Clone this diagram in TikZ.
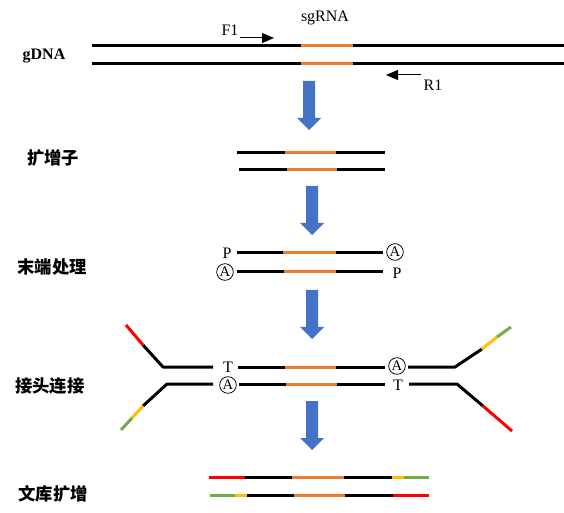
\documentclass[tikz,border=0pt]{standalone}
\usepackage{fontspec}
\setmainfont{Liberation Serif}
\newfontfamily\cjk{Noto Sans CJK SC}
\usepackage{xcolor}
\definecolor{sgOrange}{HTML}{ED7D31}
\definecolor{flowBlue}{HTML}{4472C4}
\definecolor{adRed}{HTML}{FF0000}
\definecolor{adYellow}{HTML}{FFC000}
\definecolor{adGreen}{HTML}{70AD47}
\usepackage{tikz}
\usetikzlibrary{arrows.meta}

\begin{document}
\begin{tikzpicture}[x=0.75pt, y=-0.75pt,
  strand/.style={line width=2.25pt},
  primer/.style={line width=0.75pt, -{Triangle[length=9pt, width=7.5pt]}},
  steplabel/.style={font=\cjk\bfseries\fontsize{13}{15}\selectfont},
  endmark/.style={font=\fontsize{12}{12}\selectfont, inner sep=0pt},
  adenyl/.style={circle, draw, line width=0.6pt, inner sep=0pt, minimum size=12.5pt,
    font=\fontsize{11}{11}\selectfont}]
  \useasboundingbox (0,0) rectangle (564,513);
  % ---------- step labels ----------
  \node[font=\bfseries\fontsize{12}{14}\selectfont] (gdna) at (44,56) {gDNA};
  \node[steplabel] (amplicon) at (53,158) {扩增子};
  \node[steplabel] (endrep) at (52,267) {末端处理};
  \node[steplabel] (ligation) at (50,386) {接头连接};
  \node[steplabel] (library) at (53,494) {文库扩增};
  % ---------- flow arrows ----------
  \foreach \ax/\ay in {309/81, 312/186, 312/290, 312/401}
    \fill[flowBlue] (\ax-6,\ay) -- (\ax+6,\ay) -- (\ax+6,\ay+37) -- (\ax+12,\ay+37)
      -- (\ax,\ay+49) -- (\ax-12,\ay+37) -- (\ax-6,\ay+37) -- cycle;
  % ---------- (1) genomic DNA with primers ----------
  \draw[strand] (92,46) -- (564,46);
  \draw[strand] (92,64) -- (564,64);
  \draw[strand, sgOrange] (301,46) -- (353,46);
  \draw[strand, sgOrange] (301,64) -- (353,64);
  \node[font=\fontsize{12}{12}\selectfont] (sgrna) at (325,18) {sgRNA};
  \node[font=\fontsize{12}{12}\selectfont] (fone) at (230,30) {F1};
  \node[font=\fontsize{12}{12}\selectfont] (rone) at (433,85) {R1};
  \coordinate (f1tail) at (240,38);
  \coordinate (f1tip) at (274,38);
  \coordinate (r1tail) at (421,75);
  \coordinate (r1tip) at (386,75);
  \draw[primer] (f1tail) -- (f1tip);
  \draw[primer] (r1tail) -- (r1tip);
  % ---------- (2) amplicon ----------
  \draw[strand] (237,153) -- (385,153);
  \draw[strand] (239,170) -- (385,170);
  \draw[strand, sgOrange] (285,153) -- (336,153);
  \draw[strand, sgOrange] (287,170) -- (337,170);
  % ---------- (3) end repair, A-tailing ----------
  \draw[strand] (237,253) -- (383,253);
  \draw[strand] (237,272) -- (383,272);
  \draw[strand, sgOrange] (283,253) -- (336,253);
  \draw[strand, sgOrange] (284,272) -- (336,272);
  \node[endmark] (pleft) at (227,253) {P};
  \node[adenyl] (aleft) at (225,272) {A};
  \node[adenyl] (aright) at (395,252) {A};
  \node[endmark] (pright) at (397,273) {P};
  % ---------- (4) adapter ligation ----------
  \draw[strand, line join=round] (143,345) -- (163,367) -- (213,367);
  \draw[strand] (238,367) -- (385,367);
  \draw[strand, line join=round] (408,367) -- (455,367) -- (482,349);
  \draw[strand, sgOrange] (285,367) -- (336,367);
  \draw[strand, adRed] (143,345) -- (126,325);
  \draw[strand, adYellow] (482,349) -- (497,337);
  \draw[strand, adGreen] (497,337) -- (511,327);
  \draw[strand, line join=round] (143,406) -- (167,384) -- (213,384);
  \draw[strand] (239,384) -- (385,384);
  \draw[strand, line join=round] (409,384) -- (457,384) -- (483,406);
  \draw[strand, sgOrange] (286,384) -- (337,384);
  \draw[strand, adYellow] (143,406) -- (132,418);
  \draw[strand, adGreen] (132,418) -- (121,430);
  \draw[strand, adRed] (483,406) -- (512,431);
  \node[endmark] (tleft) at (228,367) {T};
  \node[adenyl] (alig) at (228,385) {A};
  \node[adenyl] (arlig) at (397,366) {A};
  \node[endmark] (trlig) at (398,385) {T};
  % ---------- (5) library amplification ----------
  \draw[strand, adRed] (209,477) -- (245,477);
  \draw[strand] (245,477) -- (292,477);
  \draw[strand, sgOrange] (292,477) -- (344,477);
  \draw[strand] (344,477) -- (392,477);
  \draw[strand, adYellow] (392,477) -- (404,477);
  \draw[strand, adGreen] (404,477) -- (429,477);
  \draw[strand, adGreen] (210,495) -- (235,495);
  \draw[strand, adYellow] (235,495) -- (247,495);
  \draw[strand] (247,495) -- (294,495);
  \draw[strand, sgOrange] (294,495) -- (345,495);
  \draw[strand] (345,495) -- (393,495);
  \draw[strand, adRed] (393,495) -- (429,495);
\end{tikzpicture}
\end{document}
